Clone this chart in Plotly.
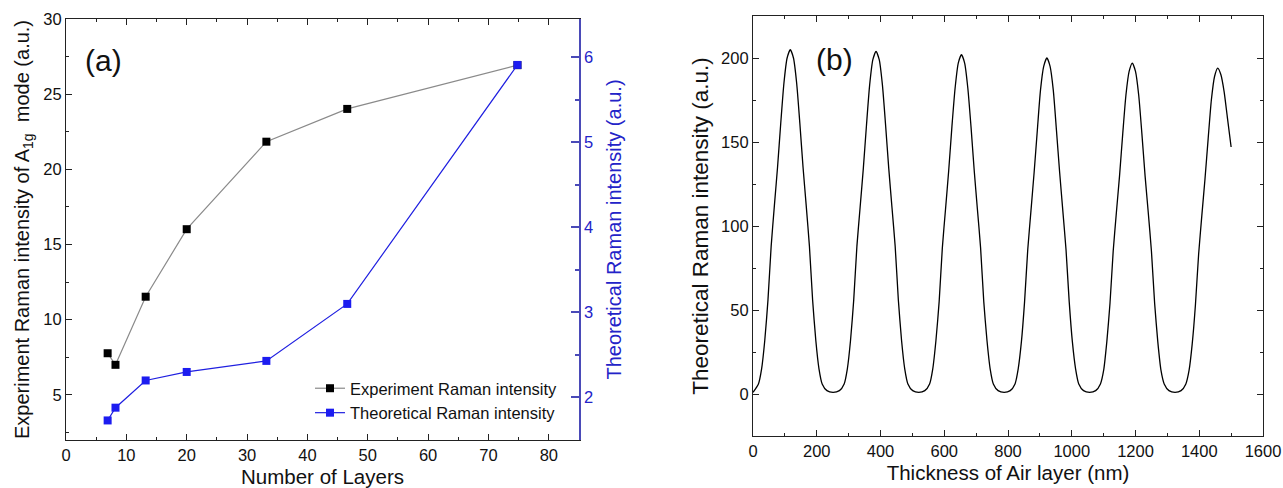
import plotly.graph_objects as go

# ---------------- Panel (a) data ----------------
layers = [6.9, 8.2, 13.2, 20.0, 33.2, 46.6, 74.8]
experiment_intensity = [7.77, 7.0, 11.53, 16.02, 21.84, 24.02, 26.93]
theoretical_intensity = [1.73, 1.88, 2.20, 2.30, 2.43, 3.10, 5.91]

# ---------------- Panel (b) data ----------------
air_thickness = [
    0, 17, 27, 37, 47, 57, 67, 77, 87, 97, 107, 117, 127, 137, 147, 157, 167, 177, 187, 197, 207, 217, 232,
    251, 271, 286, 296, 306, 316, 326, 336, 346, 356, 366, 376, 386, 396, 406, 416, 426, 436, 446, 456, 466, 476, 486, 501,
    520, 539, 554, 564, 574, 584, 594, 604, 614, 624, 634, 644, 654, 664, 674, 684, 694, 704, 714, 724, 734, 744, 754, 769,
    788, 807, 822, 832, 842, 852, 862, 872, 882, 892, 902, 912, 922, 932, 942, 952, 962, 972, 982, 992, 1002, 1012, 1022, 1037,
    1056, 1075, 1090, 1100, 1110, 1120, 1130, 1140, 1150, 1160, 1170, 1180, 1190, 1200, 1210, 1220, 1230, 1240, 1250, 1260, 1270, 1280, 1290, 1305,
    1324, 1343, 1358, 1368, 1378, 1388, 1398, 1408, 1418, 1428, 1438, 1448, 1458, 1468, 1478, 1488, 1500,
]
raman_theory = [
    1, 6, 15, 32, 56, 88, 112, 135, 161, 185, 200, 205, 200, 185, 161, 135, 112, 88, 56, 32, 15, 6, 2,
    1, 2, 6, 15, 32, 56, 88, 111, 134, 160, 184, 199, 204, 199, 184, 160, 134, 111, 88, 56, 32, 15, 6, 2,
    1, 2, 6, 15, 32, 55, 87, 110, 133, 159, 182, 197, 202, 197, 182, 159, 133, 110, 87, 55, 32, 15, 6, 2,
    1, 2, 6, 15, 31, 55, 86, 109, 132, 157, 181, 195, 200, 195, 181, 157, 132, 109, 86, 55, 31, 15, 6, 2,
    1, 2, 6, 14, 31, 54, 85, 108, 130, 155, 178, 192, 197, 192, 178, 155, 130, 108, 85, 54, 31, 14, 6, 2,
    1, 2, 6, 14, 30, 53, 83, 106, 128, 152, 175, 189, 194, 190, 180, 165, 147,
]

FONT = "Liberation Sans, Arial, sans-serif"
BLUE_AX = "#4a4ab8"
BLUE_TXT = "#2323c8"
W, H = 1283, 488

fig = go.Figure()

fig.add_trace(go.Scatter(
    x=layers, y=experiment_intensity, mode="lines+markers",
    name="Experiment Raman intensity",
    line=dict(color="#8a8a8a", width=1.2),
    marker=dict(symbol="square", size=8, color="black"),
    xaxis="x", yaxis="y",
))
fig.add_trace(go.Scatter(
    x=layers, y=theoretical_intensity, mode="lines+markers",
    name="Theoretical Raman intensity",
    line=dict(color="#1f1fe0", width=1.2),
    marker=dict(symbol="square", size=8, color="#1c1cf0"),
    xaxis="x", yaxis="y2",
))
fig.add_trace(go.Scatter(
    x=air_thickness, y=raman_theory, mode="lines",
    line=dict(color="black", width=1.3, shape="spline", smoothing=0.6),
    showlegend=False, xaxis="x3", yaxis="y3",
))

def px_x(p):
    return p / W

def px_y(p):
    return 1 - p / H

tickfont = dict(family=FONT, size=16.5, color="#111")
titlefont = dict(family=FONT, size=20.5, color="#111")

common = dict(showline=True, linecolor="#222", linewidth=1.2, ticks="inside",
              ticklen=6, tickwidth=1.2, tickcolor="#222", showgrid=False,
              zeroline=False, tickfont=tickfont, automargin=False)

fig.update_layout(
    template="none",
    width=W, height=H,
    margin=dict(l=0, r=0, t=0, b=0, pad=0),
    paper_bgcolor="white", plot_bgcolor="white",
    font=dict(family=FONT),
    xaxis=dict(domain=[px_x(66), px_x(579)], range=[0, 85], dtick=10, tick0=0,
               mirror="ticks", anchor="y",
               minor=dict(dtick=5, ticklen=3, tickcolor="#222", ticks="inside"),
               title=dict(text="Number of Layers", font=titlefont, standoff=6),
               **common),
    yaxis=dict(domain=[px_y(440), px_y(19)], range=[2, 30], dtick=5, tick0=0,
               anchor="x",
               minor=dict(dtick=2.5, ticklen=3, tickcolor="#222", ticks="inside"),
               title=dict(text="Experiment Raman intensity of A<sub>1g</sub>  mode (a.u.)",
                          font=dict(family=FONT, size=20, color="#111"), standoff=8),
               **common),
    yaxis2=dict(overlaying="y", side="right", anchor="x", range=[1.5, 6.45], dtick=1, tick0=0,
                showline=True, linecolor=BLUE_AX, linewidth=1.5, ticks="inside",
                ticklen=8, tickwidth=1.5, tickcolor=BLUE_AX, showgrid=False, zeroline=False,
                automargin=False,
                tickfont=dict(family=FONT, size=16.5, color=BLUE_TXT),
                minor=dict(dtick=0.5, ticklen=4, tickcolor=BLUE_AX, ticks="inside"),
                title=dict(text="Theoretical Raman intensity (a.u.)",
                           font=dict(family=FONT, size=20, color=BLUE_TXT), standoff=15)),
    xaxis3=dict(domain=[px_x(753), px_x(1263)], range=[0, 1600], dtick=200, tick0=0,
                mirror="ticks", anchor="y3",
                minor=dict(dtick=100, ticklen=3, tickcolor="#222", ticks="inside"),
                title=dict(text="Thickness of Air layer (nm)", font=titlefont, standoff=6),
                **common),
    yaxis3=dict(domain=[px_y(436), px_y(16)], range=[-25, 225], dtick=50, tick0=0,
                mirror="ticks", anchor="x3",
                minor=dict(dtick=25, ticklen=3, tickcolor="#222", ticks="inside"),
                title=dict(text="Theoretical Raman intensity (a.u.)",
                           font=dict(family=FONT, size=22.5, color="#111"), standoff=6),
                **common),
    legend=dict(x=px_x(310), y=px_y(371), xanchor="left", yanchor="top",
                bgcolor="rgba(0,0,0,0)", borderwidth=0,
                font=dict(family=FONT, size=16.5, color="#111"),
                tracegroupgap=0, itemwidth=30),
    annotations=[
        dict(text="(a)", x=px_x(103), y=px_y(60), xref="paper", yref="paper",
             xanchor="center", yanchor="middle",
             showarrow=False, font=dict(family=FONT, size=30, color="#111")),
        dict(text="(b)", x=px_x(834), y=px_y(59), xref="paper", yref="paper",
             xanchor="center", yanchor="middle",
             showarrow=False, font=dict(family=FONT, size=30, color="#111")),
    ],
)

fig.write_html(
    "out.html",
    post_script="document.body.style.margin='0';document.body.style.overflow='hidden';",
)
